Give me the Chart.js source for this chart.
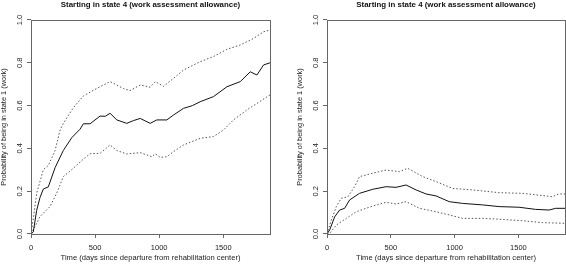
<!DOCTYPE html>
<html>
<head>
<meta charset="utf-8">
<script src="https://cdn.jsdelivr.net/npm/chart.js@4/dist/chart.umd.min.js"></script>
<style>
  html, body { margin: 0; padding: 0; background: #fff; }
  body { width: 566px; height: 267px; position: relative; overflow: hidden; }
  canvas { position: absolute; top: 0; }
</style>
</head>
<body>
<canvas id="c1" width="283" height="267" style="left:0px"></canvas>
<canvas id="c2" width="270" height="267" style="left:296px"></canvas>
<script>
// ---- data (days since departure, probability) ----
const titleText = "Starting in state 4 (work assessment allowance)";
const xTitle = "Time (days since departure from rehabilitation center)";
const yTitle = "Probability of being in state 1 (work)";
const xTicks = [0, 500, 1000, 1500];
const yTicks = [0.0, 0.2, 0.4, 0.6, 0.8, 1.0];

// Left panel
const leftMidDays  = [0,18,44,70,96,135,188,252,318,383,409,461,539,580,617,670,747,800,852,930,982,1060,1112,1190,1260,1320,1424,1529,1633,1711,1763,1815,1865];
const leftMidProb  = [0,0.01,0.11,0.17,0.21,0.22,0.31,0.39,0.45,0.49,0.515,0.515,0.551,0.55,0.564,0.533,0.517,0.53,0.54,0.517,0.533,0.533,0.556,0.587,0.60,0.618,0.642,0.688,0.712,0.758,0.743,0.79,0.80];
const leftUpDays   = [0,20,44,96,135,188,227,252,330,409,513,617,721,773,852,930,969,1034,1112,1190,1320,1424,1529,1633,1737,1815,1865];
const leftUpProb   = [0,0.08,0.19,0.30,0.32,0.39,0.486,0.517,0.59,0.645,0.68,0.712,0.68,0.67,0.696,0.686,0.712,0.69,0.727,0.766,0.805,0.829,0.863,0.883,0.914,0.945,0.953];
const leftLoDays   = [0,31,70,148,200,252,330,409,461,539,617,670,747,852,943,969,1008,1060,1112,1190,1320,1424,1502,1580,1685,1763,1865];
const leftLoProb   = [0,0.034,0.081,0.128,0.19,0.268,0.307,0.35,0.375,0.377,0.416,0.39,0.374,0.38,0.361,0.375,0.358,0.361,0.385,0.416,0.447,0.455,0.486,0.533,0.58,0.61,0.65];

// Right panel
const rightMidDays = [0,21,60,99,138,177,255,359,463,541,620,698,776,854,958,1063,1219,1349,1505,1635,1740,1792,1865];
const rightMidProb = [0,0.019,0.08,0.112,0.12,0.159,0.19,0.209,0.221,0.218,0.229,0.206,0.187,0.178,0.151,0.143,0.136,0.128,0.125,0.115,0.112,0.12,0.12];
const rightUpDays  = [0,34,73,112,164,216,255,359,463,567,633,750,854,984,1141,1349,1531,1713,1765,1817,1865];
const rightUpProb  = [0,0.065,0.128,0.167,0.174,0.221,0.268,0.284,0.299,0.291,0.307,0.268,0.245,0.213,0.206,0.193,0.19,0.178,0.174,0.187,0.187];
const rightLoDays  = [0,21,73,151,229,359,463,541,620,724,854,958,1063,1219,1349,1531,1688,1865];
const rightLoProb  = [0,0.003,0.042,0.073,0.104,0.131,0.148,0.14,0.151,0.12,0.104,0.089,0.073,0.073,0.069,0.062,0.053,0.05];

const X_MAX = 1865;

function pts(xs, ys) { return xs.map((x, i) => ({ x: x, y: ys[i] })); }

const boxPlugin = {
  id: 'box',
  afterDraw(chart) {
    const a = chart.chartArea, ctx = chart.ctx;
    ctx.save();
    ctx.strokeStyle = '#666';
    ctx.lineWidth = 1;
    ctx.strokeRect(Math.round(a.left) + 0.5, Math.round(a.top) + 0.5,
                   Math.round(a.right - a.left), Math.round(a.bottom - a.top));
    ctx.restore();
  }
};

const FONT = 'Liberation Sans, Arial, sans-serif';

function makeChart(id, mid, up, lo, padRight) {
  const ciStyle = { borderColor: '#555', borderWidth: 1, borderDash: [1.5, 2], pointRadius: 0, fill: false, tension: 0 };
  return new Chart(document.getElementById(id), {
    type: 'line',
    data: {
      datasets: [
        Object.assign({ label: 'upper', data: up }, ciStyle),
        { label: 'estimate', data: mid, borderColor: '#111', borderWidth: 1, pointRadius: 0, fill: false, tension: 0 },
        Object.assign({ label: 'lower', data: lo }, ciStyle)
      ]
    },
    options: {
      responsive: false,
      animation: false,
      layout: { padding: { left: 0, right: padRight, top: 0, bottom: 0 } },
      plugins: {
        legend: { display: false },
        tooltip: { enabled: false },
        title: {
          display: true, text: titleText, fullSize: false,
          color: '#111', font: { family: FONT, size: 7.9, weight: 'bold', lineHeight: 1.2 },
          padding: { top: 0.5, bottom: 10 }
        }
      },
      scales: {
        x: {
          type: 'linear', min: 0, max: X_MAX,
          afterBuildTicks(scale) { scale.ticks = xTicks.map(v => ({ value: v })); },
          afterFit(scale) { scale.height = 33; },
          border: { display: false },
          grid: { display: true, drawOnChartArea: false, drawTicks: true, tickLength: 4, color: '#666' },
          ticks: {
            color: '#222', padding: 5, maxRotation: 0, autoSkip: false,
            font: { family: FONT, size: 7.5 },
            callback: v => String(v)
          },
          title: {
            display: true, text: xTitle, color: '#222',
            font: { family: FONT, size: 7.6, lineHeight: 1.2 },
            padding: { top: 0, bottom: 5 }
          }
        },
        y: {
          type: 'linear', min: 0, max: 1,
          afterBuildTicks(scale) { scale.ticks = yTicks.map(v => ({ value: v })); },
          afterFit(scale) { scale.width = 31; },
          border: { display: false },
          grid: { display: true, drawOnChartArea: false, drawTicks: true, tickLength: 4, color: '#666' },
          ticks: {
            color: '#222', padding: 2, minRotation: 90, maxRotation: 90, crossAlign: 'center', autoSkip: false,
            font: { family: FONT, size: 7.5 },
            callback: v => Number(v).toFixed(1)
          },
          title: {
            display: true, text: yTitle, color: '#222',
            font: { family: FONT, size: 7.4, lineHeight: 1 },
            padding: { top: 0, bottom: 0 }
          }
        }
      }
    },
    plugins: [boxPlugin]
  });
}

makeChart('c1', pts(leftMidDays, leftMidProb), pts(leftUpDays, leftUpProb), pts(leftLoDays, leftLoProb), 13);
makeChart('c2', pts(rightMidDays, rightMidProb), pts(rightUpDays, rightUpProb), pts(rightLoDays, rightLoProb), 1);
</script>
</body>
</html>
